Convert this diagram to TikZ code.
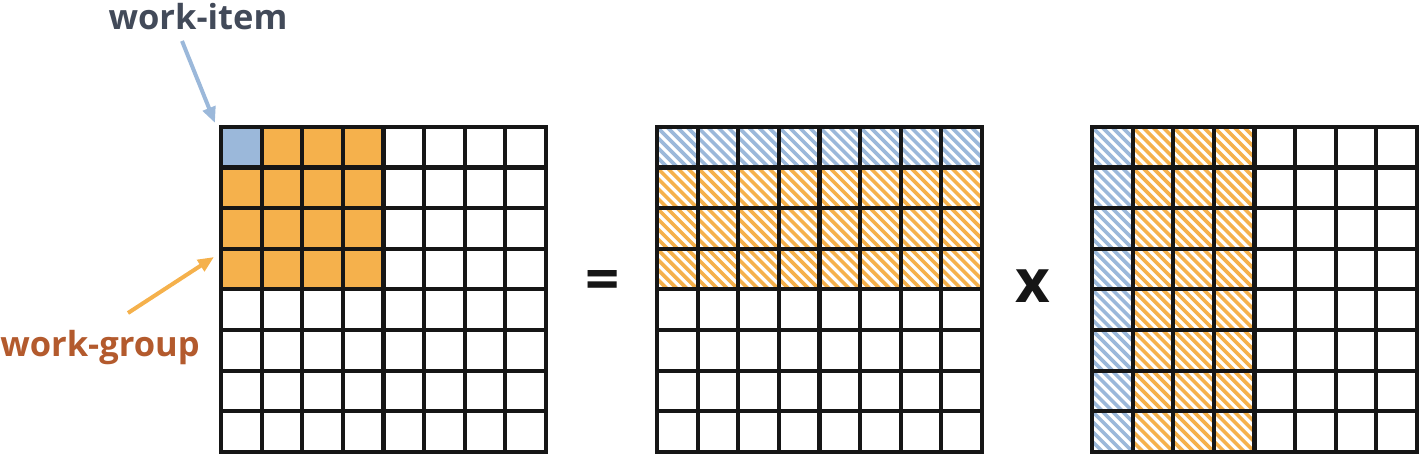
\documentclass[tikz,border=0pt]{standalone}
\usepackage{fontspec}
\setmainfont{Open Sans}
\usetikzlibrary{arrows.meta}
\definecolor{org}{HTML}{F5B14C}
\definecolor{orgedge}{HTML}{E0803F}
\definecolor{blu}{HTML}{9BB8DA}
\definecolor{itemtxt}{HTML}{424A59}
\definecolor{grouptxt}{HTML}{B35A2D}
\definecolor{gridc}{HTML}{161616}
\tikzset{
  gridline/.style={draw=gridc,line width=4.2pt,line cap=rect},
  solidorg/.style={fill=org,draw=orgedge,line width=0.8pt},
  solidblu/.style={fill=blu},
  stripe/.style={line width=3.6pt},
  label/.style={font=\bfseries\fontsize{34.5}{40}\selectfont,inner sep=0pt},
  op/.style={font=\bfseries\fontsize{60}{60}\selectfont,inner sep=0pt,text=gridc},
  pointer/.style={line width=4pt,-{Triangle[length=16pt,width=13pt]}}
}
\newcommand{\hatchcell}[3]{% x, y, colour
  \begin{scope}
    \clip (#1,#2) rectangle ++(\cs,\cs);
    \foreach \k in {-50,-40,...,40}{\draw[stripe,draw=#3] (#1+\k,#2) -- ++(\cs+10,\cs+10);}
  \end{scope}}
\begin{document}
\begin{tikzpicture}[x=1pt,y=-1pt]
\useasboundingbox (0,0) rectangle (1421,454);
\def\cs{40.6}
% ---------- left grid: work-group ----------
\foreach \r in {0,...,3}{\foreach \c in {0,...,3}{
  \path[solidorg] (221+\c*\cs,127+\r*\cs) rectangle ++(\cs,\cs);}}
\path[solidblu] (221,127) rectangle ++(\cs,\cs);
% ---------- middle grid ----------
\foreach \c in {0,...,7}{
  \hatchcell{657+\c*\cs}{127}{blu}
  \foreach \r in {1,2,3}{\hatchcell{657+\c*\cs}{127+\r*\cs}{org}}}
% ---------- right grid ----------
\foreach \r in {0,...,7}{
  \hatchcell{1092}{127+\r*\cs}{blu}
  \foreach \c in {1,2,3}{\hatchcell{1092+\c*\cs}{127+\r*\cs}{org}}}
% ---------- grid lines ----------
\foreach \x in {221,657,1092}{
  \foreach \i in {0,...,8}{
    \draw[gridline] (\x+\i*\cs,127) -- (\x+\i*\cs,127+8*\cs);
    \draw[gridline] (\x,127+\i*\cs) -- (\x+8*\cs,127+\i*\cs);}}
% ---------- labels ----------
\node[label,text=itemtxt] (item) at (198,17) {work-item};
\node[label,text=grouptxt] (group) at (100,348) {work-group};
\coordinate (itemtail) at (182,41);
\coordinate (itemtip) at (215,123);
\coordinate (grouptail) at (128,313);
\coordinate (grouptip) at (214,257);
\draw[pointer,draw=blu,fill=blu] (itemtail) -- (itemtip);
\draw[pointer,draw=org,fill=org] (grouptail) -- (grouptip);
\node[op] (eq) at (603,286) {=};
\node[op] (times) at (1033,286) {x};
\end{tikzpicture}
\end{document}
